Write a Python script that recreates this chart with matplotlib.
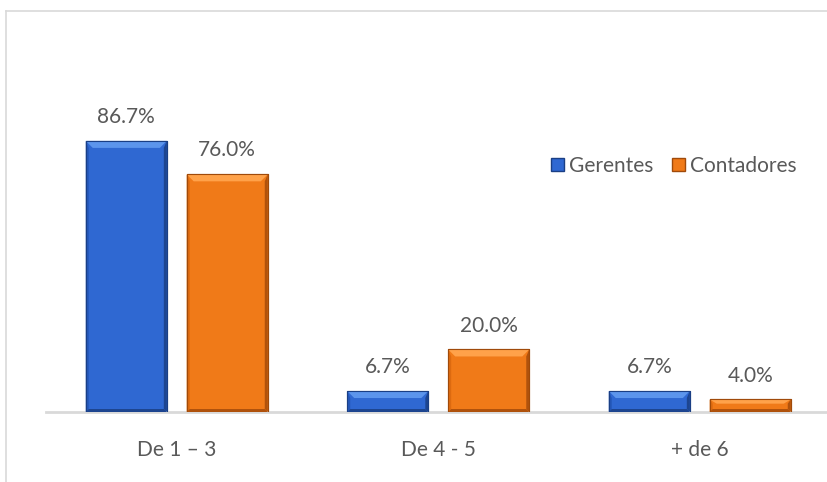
import numpy as np
import matplotlib.pyplot as plt
from matplotlib.patches import Polygon, Rectangle
from matplotlib.lines import Line2D

categories = ['De 1 – 3', 'De 4 - 5', '+ de 6']
series_names = ['Gerentes', 'Contadores']
gerentes = [86.7, 6.7, 6.7]
contadores = [76.0, 20.0, 4.0]

plt.rcParams['font.family'] = ['Lato', 'DejaVu Sans']
text_color = '#595959'

W, H = 827, 482
fig = plt.figure(figsize=(W / 100, H / 100), dpi=100)
ax = fig.add_axes([46 / W, 70 / H, 784.5 / W, 312.7 / H])
ax.set_xlim(-0.5, 2.5)
ax.set_ylim(0, 100)

px_x = 784.5 / 3.0     # pixels per x unit
px_y = 312.7 / 100.0   # pixels per y unit

styles = {
    'Gerentes': dict(face='#2f68d2', top='#5c95ec', side='#2457b8', bottom='#1d4590', edge='#1a3f85'),
    'Contadores': dict(face='#f07a18', top='#ffa24a', side='#dc6a10', bottom='#b0520c', edge='#a04a0a'),
}

width = 0.31
offsets = [-0.193, 0.193]
x = np.arange(len(categories))


def bevel_bar(xc, h, st):
    x0, x1 = xc - width / 2, xc + width / 2
    bx = 7 / px_x
    by = min(7 / px_y, h / 3)
    sx = 3 / px_x
    sy = min(3 / px_y, h / 4)
    # main face
    ax.add_patch(Rectangle((x0, 0), x1 - x0, h, facecolor=st['face'],
                           edgecolor=st['edge'], linewidth=0.8, zorder=2))
    # sides
    ax.add_patch(Polygon([(x0, 0), (x0 + sx, sy), (x0 + sx, h - by), (x0, h)],
                         closed=True, facecolor=st['side'], edgecolor='none', zorder=3))
    ax.add_patch(Polygon([(x1, 0), (x1 - sx, sy), (x1 - sx, h - by), (x1, h)],
                         closed=True, facecolor=st['bottom'], edgecolor='none', zorder=3))
    # bottom
    ax.add_patch(Polygon([(x0, 0), (x1, 0), (x1 - sx, sy), (x0 + sx, sy)],
                         closed=True, facecolor=st['bottom'], edgecolor='none', zorder=3))
    # top bevel
    ax.add_patch(Polygon([(x0, h), (x1, h), (x1 - bx, h - by), (x0 + bx, h - by)],
                         closed=True, facecolor=st['top'], edgecolor='none', zorder=3))
    ax.plot([x0, x1, x1, x0, x0], [0, 0, h, h, 0], color=st['edge'], lw=0.8, zorder=4)


for name, vals, off in zip(series_names, [gerentes, contadores], offsets):
    for xi, v in zip(x, vals):
        bevel_bar(xi + off, v, styles[name])
        ax.annotate(f'{v:.1f}%', (xi + off, v), xytext=(0, 10), textcoords='offset points',
                    ha='center', va='bottom', fontsize=15, color=text_color)

for s in ['top', 'right', 'left']:
    ax.spines[s].set_visible(False)
ax.spines['bottom'].set_color('#d9d9d9')
ax.spines['bottom'].set_linewidth(2)
ax.set_yticks([])
ax.set_xticks(x)
ax.set_xticklabels(categories, fontsize=15, color=text_color)
ax.tick_params(axis='x', length=0, pad=20)

handles = [Rectangle((0, 0), 1, 1, facecolor=styles[n]['face'], edgecolor=styles[n]['edge'])
           for n in series_names]
leg = fig.legend(handles, series_names, loc='center', bbox_to_anchor=(674 / W, 1 - 166 / H),
                 ncol=2, frameon=False, fontsize=15, handlelength=0.6, handleheight=0.6,
                 handletextpad=0.25, columnspacing=0.9, borderaxespad=0)
for t in leg.get_texts():
    t.set_color(text_color)

# chart area border (cropped)
fig.add_artist(Line2D([6 / W, 6 / W], [0, 1 - 11 / H], color='#d9d9d9', lw=1.2))
fig.add_artist(Line2D([6 / W, 1], [1 - 11 / H, 1 - 11 / H], color='#d9d9d9', lw=1.2))

fig.savefig('out.png', dpi=100)
